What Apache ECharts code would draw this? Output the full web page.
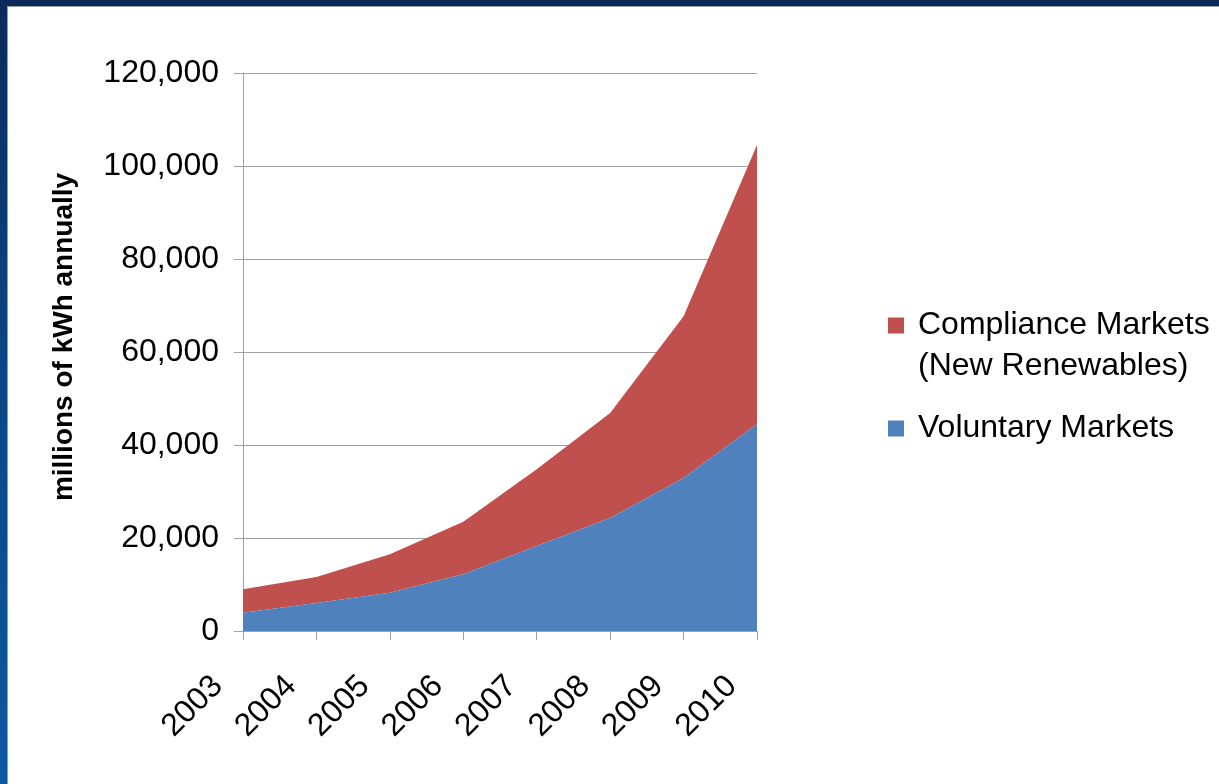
<!DOCTYPE html>
<html>
<head>
<meta charset="utf-8">
<script src="https://cdn.jsdelivr.net/npm/echarts@6/dist/echarts.min.js"></script>
<style>
  html, body { margin: 0; padding: 0; background: #ffffff; }
  #chart { width: 1219px; height: 784px; }
</style>
</head>
<body>
<div id="chart"></div>
<script>
// Renewable energy market sizes, millions of kWh per year
const years = ['2003', '2004', '2005', '2006', '2007', '2008', '2009', '2010'];
const voluntaryMarkets = [3900, 6000, 8200, 12200, 18300, 24300, 32900, 44500];
const complianceMarkets = [5100, 5600, 8300, 11300, 16500, 22600, 34800, 60000];
const yTicks = { min: 0, max: 120000, step: 20000 };

const COMPLIANCE_NAME = 'Compliance Markets\n(New Renewables)';
const VOLUNTARY_NAME = 'Voluntary Markets';

const FONT = '"Liberation Sans", Arial, sans-serif';
const BLUE = '#4f81bd';
const RED = '#c0504d';
const GRID_GRAY = '#a0a0a0';

const chart = echarts.init(document.getElementById('chart'), null, { renderer: 'canvas' });

chart.setOption({
  backgroundColor: '#ffffff',
  animation: false,
  textStyle: { fontFamily: FONT },
  grid: { left: 243, top: 73, right: 462, bottom: 153, containLabel: false },
  graphic: [
    // slide frame: navy top band and blue left band with thin grey edges
    {
      type: 'rect', left: 0, top: 0, z: 100,
      shape: { width: 1219, height: 6 },
      style: { fill: '#0b2a5b' }
    },
    {
      type: 'rect', left: 0, top: 6, z: 100,
      shape: { width: 1219, height: 1 },
      style: { fill: '#9a9a9a' }
    },
    {
      type: 'rect', left: 0, top: 0, z: 101,
      shape: { width: 7, height: 784 },
      style: {
        fill: new echarts.graphic.LinearGradient(0, 0, 0, 1, [
          { offset: 0, color: '#0b2a5b' },
          { offset: 0.45, color: '#0b4585' },
          { offset: 1, color: '#0d58a2' }
        ])
      }
    },
    {
      type: 'rect', left: 7, top: 6, z: 101,
      shape: { width: 1, height: 778 },
      style: { fill: '#9a9a9a' }
    },
    // vertical axis title
    {
      type: 'text',
      x: 64, y: 337,
      rotation: Math.PI / 2,
      style: {
        text: 'millions of kWh annually',
        fontFamily: FONT,
        fontSize: 28,
        fontWeight: 'bold',
        fill: '#000000',
        align: 'center',
        verticalAlign: 'middle'
      }
    }
  ],
  legend: {
    orient: 'vertical',
    left: 888,
    top: 264,
    padding: 0,
    itemWidth: 16,
    itemHeight: 16,
    itemGap: 21,
    icon: 'rect',
    selectedMode: false,
    data: [COMPLIANCE_NAME, VOLUNTARY_NAME],
    // a blank first line keeps the swatch level with the first text line
    formatter: name => (name === COMPLIANCE_NAME ? ' \n' + name : name),
    textStyle: {
      fontFamily: FONT,
      fontSize: 32,
      lineHeight: 41,
      color: '#000000',
      padding: [0, 0, 0, 9]
    }
  },
  xAxis: {
    type: 'category',
    data: years,
    boundaryGap: false,
    axisLine: { show: true, lineStyle: { color: GRID_GRAY, width: 1 } },
    axisTick: { show: true, length: 9, interval: 0, lineStyle: { color: GRID_GRAY } },
    axisLabel: {
      interval: 0,
      rotate: 45,
      margin: 25,
      fontFamily: FONT,
      fontSize: 32,
      color: '#000000',
      // trailing no-break spaces leave a gap before the tick
      formatter: v => v + '\u00a0\u00a0\u00a0\u00a0'
    },
    splitLine: { show: false }
  },
  yAxis: {
    type: 'value',
    min: yTicks.min,
    max: yTicks.max,
    interval: yTicks.step,
    axisLine: { show: true, lineStyle: { color: GRID_GRAY, width: 1 } },
    axisTick: { show: true, length: 9, lineStyle: { color: GRID_GRAY } },
    axisLabel: {
      margin: 24,
      fontFamily: FONT,
      fontSize: 32,
      color: '#000000',
      formatter: v => v.toLocaleString('en-US')
    },
    splitLine: { show: true, lineStyle: { color: GRID_GRAY, width: 1 } }
  },
  series: [
    {
      name: VOLUNTARY_NAME,
      type: 'line',
      stack: 'total',
      data: voluntaryMarkets,
      showSymbol: false,
      symbol: 'none',
      lineStyle: { width: 0 },
      areaStyle: { color: BLUE, opacity: 1 },
      itemStyle: { color: BLUE },
      z: 3
    },
    {
      name: COMPLIANCE_NAME,
      type: 'line',
      stack: 'total',
      data: complianceMarkets,
      showSymbol: false,
      symbol: 'none',
      lineStyle: { width: 0 },
      areaStyle: { color: RED, opacity: 1 },
      itemStyle: { color: RED },
      z: 2
    }
  ]
});
</script>
</body>
</html>
